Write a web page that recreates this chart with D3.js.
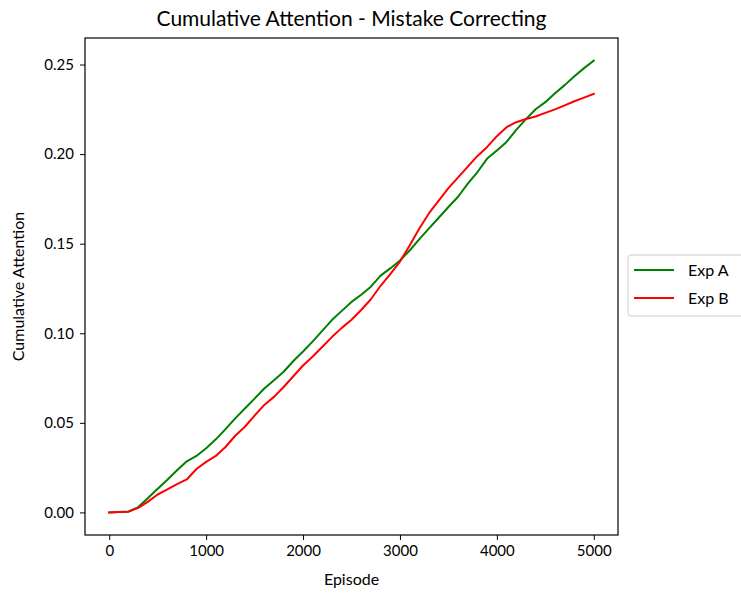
<!DOCTYPE html>
<html>
<head>
<meta charset="utf-8">
<script src="https://cdn.jsdelivr.net/npm/d3@7"></script>
<style>
  html, body { margin: 0; padding: 0; background: #fff; }
  svg { display: block; font-family: Lato, "DejaVu Sans", sans-serif; }
</style>
</head>
<body>
<svg id="chart" width="741" height="593"></svg>
<script>
// Episodes sampled every 100 steps
const episodes = d3.range(0, 5001, 100);

const expA = [
  0.0000, 0.0002, 0.0005, 0.0030, 0.0080, 0.0132, 0.0182, 0.0235, 0.0285, 0.0315,
  0.0358, 0.0408, 0.0465, 0.0525, 0.0580, 0.0635, 0.0692, 0.0738, 0.0785, 0.0845,
  0.0898, 0.0955, 0.1015, 0.1075, 0.1125, 0.1175, 0.1215, 0.1260, 0.1322, 0.1362,
  0.1406, 0.1462, 0.1525, 0.1585, 0.1645, 0.1705, 0.1762, 0.1835, 0.1900, 0.1975,
  0.2020, 0.2068, 0.2135, 0.2195, 0.2250, 0.2290, 0.2340, 0.2385, 0.2435, 0.2480,
  0.2522
];

const expB = [
  0.0000, 0.0002, 0.0004, 0.0025, 0.0060, 0.0100, 0.0128, 0.0158, 0.0184, 0.0242,
  0.0282, 0.0315, 0.0365, 0.0428, 0.0478, 0.0540, 0.0600, 0.0645, 0.0700, 0.0760,
  0.0820, 0.0870, 0.0925, 0.0980, 0.1030, 0.1075, 0.1130, 0.1190, 0.1265, 0.1330,
  0.1400, 0.1490, 0.1585, 0.1670, 0.1740, 0.1810, 0.1870, 0.1930, 0.1990, 0.2040,
  0.2100, 0.2150, 0.2178, 0.2196, 0.2210, 0.2230, 0.2250, 0.2272, 0.2295, 0.2315,
  0.2336
];

const seriesNames = ["Exp A", "Exp B"];
const seriesColors = ["#008000", "#ff0000"];
const xTicks = [0, 1000, 2000, 3000, 4000, 5000];
const yTicks = [0.00, 0.05, 0.10, 0.15, 0.20, 0.25];

const svg = d3.select("#chart");
const plot = { left: 85, right: 618, top: 38, bottom: 535 };

const x = d3.scaleLinear().domain([-250, 5250]).range([plot.left, plot.right]);
const yMax = 0.2522;
const pad = yMax * 0.05;
const y = d3.scaleLinear().domain([-pad, yMax + pad]).range([plot.bottom, plot.top]);

// axes
const xAxis = d3.axisBottom(x).tickValues(xTicks).tickFormat(d3.format("d")).tickSize(5).tickPadding(5);
const yAxis = d3.axisLeft(y).tickValues(yTicks).tickFormat(d3.format(".2f")).tickSize(5).tickPadding(6);

const gx = svg.append("g").attr("transform", `translate(0,${plot.bottom})`).call(xAxis);
const gy = svg.append("g").attr("transform", `translate(${plot.left},0)`).call(yAxis);
[gx, gy].forEach(g => {
  g.select(".domain").remove();
  g.selectAll(".tick line").attr("stroke", "#000").attr("stroke-width", 1);
  g.selectAll(".tick text").attr("fill", "#000").style("font-size", "15px")
    .style("font-family", "Lato, 'DejaVu Sans', sans-serif");
});

// series lines
const series = [expA, expB];
const line = d3.line().x((d, i) => x(episodes[i])).y(d => y(d));
series.forEach((vals, k) => {
  svg.append("path")
    .datum(vals)
    .attr("d", line)
    .attr("fill", "none")
    .attr("stroke", seriesColors[k])
    .attr("stroke-width", 2)
    .attr("stroke-linejoin", "round")
    .attr("stroke-linecap", "square");
});

// frame
svg.append("rect")
  .attr("x", plot.left).attr("y", plot.top)
  .attr("width", plot.right - plot.left).attr("height", plot.bottom - plot.top)
  .attr("fill", "none").attr("stroke", "#000").attr("stroke-width", 1.2);

// titles
svg.append("text")
  .attr("x", (plot.left + plot.right) / 2).attr("y", 26)
  .attr("text-anchor", "middle").style("font-size", "21px")
  .text("Cumulative Attention - Mistake Correcting");

svg.append("text")
  .attr("x", (plot.left + plot.right) / 2).attr("y", 585)
  .attr("text-anchor", "middle").style("font-size", "16px")
  .text("Episode");

svg.append("text")
  .attr("transform", `translate(24,${(plot.top + plot.bottom) / 2}) rotate(-90)`)
  .attr("text-anchor", "middle").style("font-size", "16px")
  .text("Cumulative Attention");

// legend
const lg = svg.append("g").attr("transform", "translate(628,255)");
lg.append("rect")
  .attr("x", 0).attr("y", 0).attr("width", 130).attr("height", 61)
  .attr("rx", 3).attr("fill", "#fff").attr("stroke", "#cccccc").attr("stroke-width", 1);
seriesNames.forEach((name, k) => {
  const yy = 15 + k * 28;
  lg.append("line")
    .attr("x1", 6).attr("x2", 46).attr("y1", yy).attr("y2", yy)
    .attr("stroke", seriesColors[k]).attr("stroke-width", 2);
  lg.append("text")
    .attr("x", 60).attr("y", yy + 5.5).style("font-size", "16px")
    .text(name);
});
</script>
</body>
</html>
